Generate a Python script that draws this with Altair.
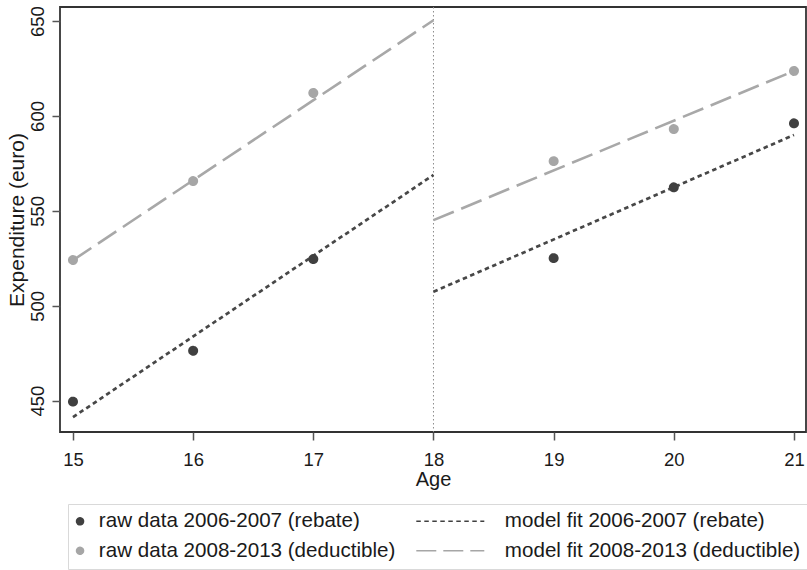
import altair as alt
import pandas as pd

# ---- data -------------------------------------------------------------
ages = [15, 16, 17, 19, 20, 21]
raw_rebate = [449.5, 476.3, 524.6, 525.1, 562.4, 596.1]
raw_deductible = [524.1, 565.7, 612.1, 576.2, 593.1, 623.7]

fit_ages = [15, 18, 18, 21]
fit_segment = ["below", "below", "above", "above"]
fit_rebate = [441.3, 568.9, 507.4, 590.0]
fit_deductible = [524.0, 650.4, 545.1, 623.7]

cutoff_age = [18]

x_ticks = [15, 16, 17, 18, 19, 20, 21]
y_ticks = [450, 500, 550, 600, 650]

RAW_REB = "raw data 2006-2007 (rebate)"
FIT_REB = "model fit 2006-2007 (rebate)"
RAW_DED = "raw data 2008-2013 (deductible)"
FIT_DED = "model fit 2008-2013 (deductible)"

DARK = "#404040"
GREY = "#a6a6a6"
FONT = "Liberation Sans"

# ---- tables -----------------------------------------------------------
raw_df = pd.concat([
    pd.DataFrame({"age": ages, "value": raw_rebate, "series": RAW_REB}),
    pd.DataFrame({"age": ages, "value": raw_deductible, "series": RAW_DED}),
])
fit_reb_df = pd.DataFrame({"age": fit_ages, "value": fit_rebate, "segment": fit_segment})
fit_ded_df = pd.DataFrame({"age": fit_ages, "value": fit_deductible, "segment": fit_segment})
cut_df = pd.DataFrame({"age": cutoff_age})

# ---- legend: one box, two columns (raw points | model fits) ------------
# entries fill the grid column by column
legend_domain = [RAW_REB, RAW_DED, FIT_REB, FIT_DED]
legend_colors = [DARK, GREY, DARK, GREY]
# fit entries draw as a horizontal stroke placed left of their label
stroke_path = "M-19.93,0H-0.5"
legend_shapes = ["circle", "circle", stroke_path, stroke_path]
legend_dashes = [[1, 0], [1, 0], [4.5, 3.5], [20, 7]]

legend = alt.Legend(
    title=None,
    orient="none",
    legendX=8,
    legendY=497,
    columns=2,
    columnPadding=17,
    rowPadding=8.5,
    padding=7,
    symbolSize=49,
    symbolOffset=-5.25,
    labelOffset=8.5,
    labelFont=FONT,
    labelFontSize=20.6,
    labelColor="#1a1a1a",
    labelLimit=400,
    strokeColor="#d9d9d9",
)

x_scale = alt.Scale(domain=[14.892, 21.1], nice=False, zero=False)
y_scale = alt.Scale(domain=[433.5, 657.4], nice=False, zero=False)

x_enc = alt.X(
    "age:Q",
    scale=x_scale,
    axis=alt.Axis(values=x_ticks, format="d", title="Age"),
)
y_enc = alt.Y(
    "value:Q",
    scale=y_scale,
    axis=alt.Axis(values=y_ticks, format="d", title="Expenditure (euro)"),
)

cut_rule = alt.Chart(cut_df).mark_rule(
    color="#8c8c8c", strokeWidth=1, strokeDash=[1.5, 2.5]
).encode(x=alt.X("age:Q", scale=x_scale))

fit_reb_line = alt.Chart(fit_reb_df).mark_line(
    color="#474747", strokeWidth=2.7, strokeDash=[4.5, 3.5]
).encode(x=x_enc, y=y_enc, detail="segment:N")

fit_ded_line = alt.Chart(fit_ded_df).mark_line(
    color="#a8a8a8", strokeWidth=2.6, strokeDash=[22, 8]
).encode(x=x_enc, y=y_enc, detail="segment:N")

points = alt.Chart(raw_df).mark_point(
    filled=True, size=56, strokeWidth=2.5, opacity=1
).encode(
    x=x_enc,
    y=y_enc,
    fill=alt.Fill("series:N", scale=alt.Scale(domain=legend_domain, range=legend_colors), legend=legend),
    stroke=alt.Stroke("series:N", scale=alt.Scale(domain=legend_domain, range=legend_colors), legend=legend),
    shape=alt.Shape("series:N", scale=alt.Scale(domain=legend_domain, range=legend_shapes), legend=legend),
    strokeDash=alt.StrokeDash("series:N", scale=alt.Scale(domain=legend_domain, range=legend_dashes), legend=legend),
)

chart = (
    alt.layer(cut_rule, fit_reb_line, fit_ded_line, points)
    .properties(
        width=746,
        height=425,
        autosize=alt.AutoSizeParams(type="none"),
        padding={"left": 60, "top": 7, "right": 1, "bottom": 138},
        background="white",
    )
    .configure_view(stroke="#333333", strokeWidth=1.8)
    .configure_axis(
        grid=False,
        domain=False,
        labelFont=FONT,
        titleFont=FONT,
        labelColor="#1a1a1a",
        titleColor="#1a1a1a",
        titleFontWeight="normal",
        tickColor="#555555",
        tickWidth=1.5,
        tickSize=8,
    )
    .configure_axisX(labelFontSize=18.5, labelPadding=10, titleFontSize=20, titlePadding=1)
    .configure_axisY(
        labelFontSize=18.5,
        labelAngle=270,
        labelAlign="center",
        labelBaseline="bottom",
        labelPadding=5,
        titleFontSize=21,
        titlePadding=1,
    )
)

chart.save("out.html", embed_options={"renderer": "svg", "actions": False})
